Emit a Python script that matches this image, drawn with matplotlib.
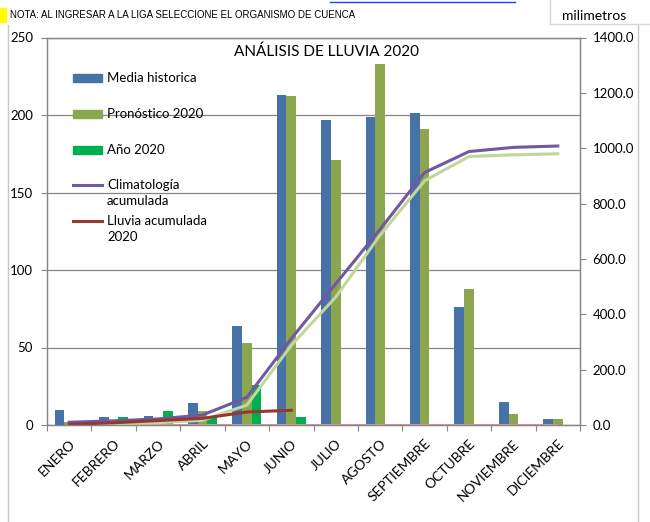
import matplotlib
matplotlib.use('Agg')
import matplotlib.pyplot as plt
import matplotlib.transforms as mtransforms
from matplotlib.patches import Rectangle
from matplotlib.lines import Line2D
import numpy as np

plt.rcParams['font.family'] = ['Lato', 'DejaVu Sans']

meses = ['ENERO', 'FEBRERO', 'MARZO', 'ABRIL', 'MAYO', 'JUNIO', 'JULIO',
         'AGOSTO', 'SEPTIEMBRE', 'OCTUBRE', 'NOVIEMBRE', 'DICIEMBRE']
media_historica = [10, 5, 6, 14, 64, 213, 197, 199, 201, 76, 15, 4]
pronostico_2020 = [2, 2, 3, 9, 53, 212, 171, 233, 191, 88, 7, 4]
anio_2020 = [0.5, 5, 9, 5, 26, 5, 0, 0, 0, 0, 0, 0]
climatologia_acum = [10, 15, 22, 36, 100, 312, 510, 707, 912, 988, 1003, 1008]
pronostico_acum = [2, 4, 8, 17, 72, 288, 462, 686, 882, 970, 976, 980]
lluvia_acum_2020 = [2, 8, 16, 24, 47, 53]
cero_linea = [0] * 12

nombres = ['Media historica', 'Pronóstico 2020', 'Año 2020',
           'Climatología\nacumulada', 'Lluvia acumulada\n2020']

c_azul = '#4672a8'
c_oliva = '#8ba64f'
c_verde = '#00b050'
c_morado = '#7158a0'
c_rojo = '#953735'
c_verdeclaro = '#c3d69b'
c_rosa = '#d99694'
c_gris = '#868686'

W, H = 650, 522
fig = plt.figure(figsize=(W / 100, H / 100), dpi=100)


def fx(x):
    return x / W


def fy(y):
    return 1 - y / H


ax = fig.add_axes([fx(47), fy(425), fx(580) - fx(47), fy(37.5) - fy(425)])
ax2 = ax.twinx()
ax.set_zorder(ax2.get_zorder() - 1)
ax2.patch.set_visible(False)

x = np.arange(len(meses))
bw = 0.218
ax.bar(x - bw, media_historica, bw, color=c_azul, zorder=3)
ax.bar(x, pronostico_2020, bw, color=c_oliva, zorder=3)
ax.bar(x + bw, anio_2020, bw, color=c_verde, zorder=3)

ax2.plot(x, cero_linea, color=c_rosa, lw=2.2, solid_capstyle='butt')
ax2.plot(x, pronostico_acum, color=c_verdeclaro, lw=2.2)
ax2.plot(x, climatologia_acum, color=c_morado, lw=2.2)
ax2.plot(x[:len(lluvia_acum_2020)], lluvia_acum_2020, color=c_rojo, lw=2.2)

ax.set_xlim(-0.5, len(meses) - 0.5)
ax.set_ylim(0, 250)
ax2.set_ylim(0, 1400)
ax.set_yticks(np.arange(0, 251, 50))
ax2.set_yticks(np.arange(0, 1401, 200))
ax2.set_yticklabels(['%.1f' % v for v in np.arange(0, 1401, 200)])
ax.yaxis.grid(True, color=c_gris, lw=0.9, zorder=0)

ax.set_xticks(np.arange(-0.5, len(meses), 1))
ax.set_xticklabels([])
ax.set_xticks(x, minor=True)
ax.set_xticklabels(meses, minor=True, rotation=45, ha='right', va='center',
                   rotation_mode='anchor', fontsize=10)
ax.tick_params(axis='x', which='minor', length=0, pad=12)
ax.tick_params(axis='x', which='major', length=4, color=c_gris, direction='out')
ax.tick_params(axis='y', labelsize=9.5, length=4, color=c_gris, pad=6)
ax2.tick_params(axis='y', labelsize=9.5, length=4, color=c_gris, pad=5)

# correr un poco las etiquetas de los meses a la derecha
desplaza = mtransforms.ScaledTranslation(4 / 100, 0, fig.dpi_scale_trans)
for lbl in ax.get_xticklabels(minor=True):
    lbl.set_transform(lbl.get_transform() + desplaza)

for a in (ax, ax2):
    for s in a.spines.values():
        s.set_color(c_gris)
        s.set_linewidth(0.9)

fig.text(fx(327), fy(52), 'ANÁLISIS DE LLUVIA 2020', ha='center', va='center', fontsize=11)

# leyenda
ys = [78, 114, 150, 193, 229]
for i, (nom, yy) in enumerate(zip(nombres, ys)):
    if i < 3:
        col = [c_azul, c_oliva, c_verde][i]
        fig.patches.append(Rectangle((fx(73), fy(yy + 4)), fx(102) - fx(73), fy(yy - 4) - fy(yy + 4),
                                     transform=fig.transFigure, color=col))
        fig.text(fx(107), fy(yy), nom, ha='left', va='center', fontsize=9.5)
    else:
        col = [c_morado, c_rojo][i - 3]
        fig.lines.append(Line2D([fx(73), fx(102)], [fy(yy - 8), fy(yy - 8)],
                                transform=fig.transFigure, color=col, lw=2.2))
        fig.text(fx(107), fy(yy), nom, ha='left', va='center', fontsize=9.5, linespacing=1.45)

# marco y encabezado
fig.lines.append(Line2D([fx(8), fx(8)], [fy(25), fy(522)], transform=fig.transFigure, color='#c8c8c8', lw=1))
fig.lines.append(Line2D([fx(638), fx(638)], [fy(24), fy(522)], transform=fig.transFigure, color='#c8c8c8', lw=1))
fig.lines.append(Line2D([fx(550), fx(550)], [fy(0), fy(24)], transform=fig.transFigure, color='#d8d8d8', lw=1))
fig.lines.append(Line2D([fx(550), fx(650)], [fy(24), fy(24)], transform=fig.transFigure, color='#d8d8d8', lw=1))
fig.lines.append(Line2D([fx(330), fx(515)], [fy(1.5), fy(1.5)], transform=fig.transFigure, color='#2040ff', lw=1))
fig.patches.append(Rectangle((fx(0), fy(22)), fx(6), fy(8) - fy(22), transform=fig.transFigure, color='#ffff00'))
fig.text(fx(10), fy(15), 'NOTA: AL INGRESAR A LA LIGA SELECCIONE EL ORGANISMO DE CUENCA',
         ha='left', va='center', fontsize=7, family='Liberation Sans')
fig.text(fx(594), fy(16), 'milimetros', ha='center', va='center', fontsize=10)

fig.savefig('out.png', dpi=100)
